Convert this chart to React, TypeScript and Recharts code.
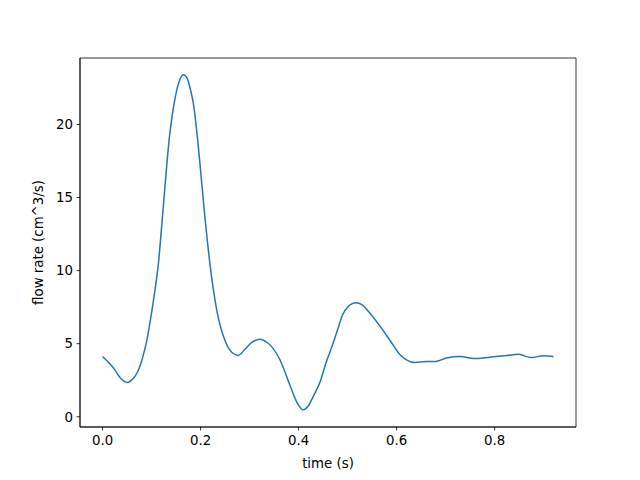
import React from "react";
import { LineChart, Line, XAxis, YAxis, Label, ReferenceArea } from "recharts";

const times = [
  0.0, 0.022, 0.038, 0.05, 0.062, 0.072, 0.083, 0.092, 0.097, 0.105, 0.114, 0.124, 0.136,
  0.148, 0.158, 0.165, 0.172, 0.18, 0.185, 0.196, 0.207, 0.219, 0.233, 0.25, 0.264, 0.277,
  0.29, 0.305, 0.321, 0.335, 0.345, 0.362, 0.383, 0.398, 0.409, 0.42, 0.43, 0.444, 0.456,
  0.468, 0.48, 0.49, 0.5, 0.517, 0.53, 0.54, 0.566, 0.587, 0.607, 0.62, 0.638, 0.66, 0.679,
  0.702, 0.73, 0.757, 0.791, 0.825, 0.849, 0.862, 0.875, 0.9, 0.92,
];
const flowRates = [
  4.12, 3.35, 2.6, 2.35, 2.6, 3.1, 4.2, 5.5, 6.5, 8.2, 10.5, 14.4, 19.0,
  21.8, 23.1, 23.4, 23.2, 22.3, 21.5, 18.3, 14.3, 10.5, 7.3, 5.2, 4.4, 4.2,
  4.6, 5.1, 5.3, 5.1, 4.8, 3.9, 2.1, 0.9, 0.48, 0.75, 1.4, 2.4, 3.7,
  4.8, 6.0, 7.0, 7.5, 7.8, 7.65, 7.3, 6.2, 5.2, 4.25, 3.9, 3.72, 3.78, 3.78,
  4.02, 4.12, 3.98, 4.08, 4.19, 4.28, 4.15, 4.05, 4.18, 4.12,
];
const xTicks = [0, 0.2, 0.4, 0.6, 0.8];
const yTicks = [0, 5, 10, 15, 20];
const xDomain: [number, number] = [-0.046, 0.966];
const yDomain: [number, number] = [-0.7, 24.55];

const data = times.map((t, i) => ({ t, v: flowRates[i] }));

const font = "DejaVu Sans, sans-serif";
const tickStyle = { fill: "#000", fontSize: 13.33, fontFamily: font };
const lineStyle = { stroke: "#000", strokeWidth: 0.8 };

export default function App() {
  return (
    <div style={{ position: "absolute", left: 0, top: 0, background: "#fff" }}>
      <LineChart
        width={640}
        height={480}
        data={data}
        margin={{ top: 58, right: 64, left: 0, bottom: 0 }}
      >
        <ReferenceArea
          x1={xDomain[0]}
          x2={xDomain[1]}
          y1={yDomain[0]}
          y2={yDomain[1]}
          fill="none"
          fillOpacity={0}
          stroke="#000"
          strokeWidth={0.8}
          ifOverflow="visible"
        />
        <XAxis
          dataKey="t"
          type="number"
          domain={xDomain}
          allowDataOverflow
          ticks={xTicks}
          tickFormatter={(v: number) => v.toFixed(1)}
          tick={tickStyle}
          tickSize={3.5}
          tickMargin={5}
          axisLine={lineStyle}
          tickLine={lineStyle}
          height={53}
        >
          <Label
            value="time (s)"
            position="center"
            dy={10}
            style={{ fill: "#000", fontSize: 13.33, fontFamily: font }}
          />
        </XAxis>
        <YAxis
          type="number"
          domain={yDomain}
          allowDataOverflow
          ticks={yTicks}
          tick={tickStyle}
          tickSize={3.5}
          tickMargin={3.5}
          axisLine={lineStyle}
          tickLine={lineStyle}
          width={80}
        >
          <Label
            value="flow rate (cm^3/s)"
            position="center"
            angle={-90}
            dx={-2}
            style={{ fill: "#000", fontSize: 13.33, fontFamily: font, textAnchor: "middle" }}
          />
        </YAxis>
        <Line
          dataKey="v"
          type="monotone"
          stroke="#1f77b4"
          strokeWidth={1.5}
          dot={false}
          isAnimationActive={false}
        />
      </LineChart>
    </div>
  );
}
